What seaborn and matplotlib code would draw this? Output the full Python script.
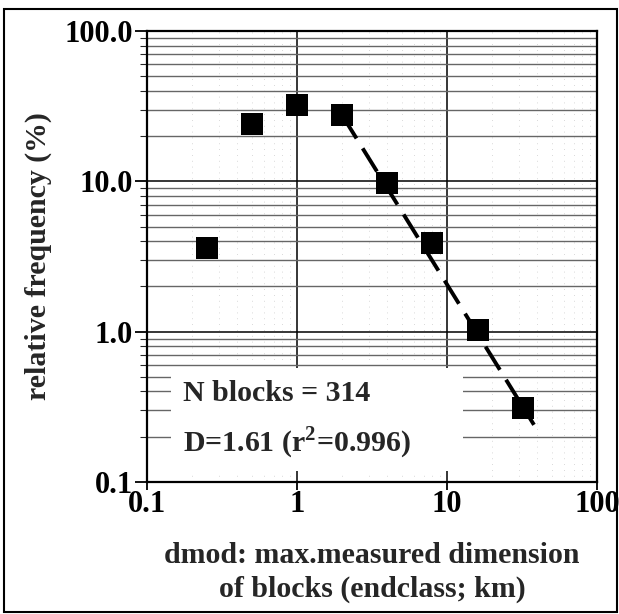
import numpy as np
import pandas as pd
import matplotlib
matplotlib.use("Agg")
import matplotlib.pyplot as plt
import seaborn as sns
from matplotlib.patches import Rectangle
from matplotlib.ticker import FixedLocator, FixedFormatter, LogLocator, NullFormatter

# data
dmod_km = [0.25, 0.5, 1, 2, 4, 8, 16, 32]
rel_freq_pct = [3.6, 24.0, 32.0, 27.5, 9.8, 3.9, 1.03, 0.31]
fit_x = [2.0, 38.0]
fit_y = [27.5, 0.24]
x_ticks = [0.1, 1, 10, 100]
x_labels = ["0.1", "1", "10", "100"]
y_ticks = [0.1, 1, 10, 100]
y_labels = ["0.1", "1.0", "10.0", "100.0"]
annot = ["N blocks = 314", r"D=1.61 (r$^{\mathbf{2}}$=0.996)"]

sns.set_style("white")
plt.rcParams["font.family"] = ["Liberation Serif", "DejaVu Serif"]
plt.rcParams["font.weight"] = "bold"
plt.rcParams["mathtext.fontset"] = "custom"
plt.rcParams["mathtext.rm"] = "Liberation Serif:bold"
plt.rcParams["mathtext.bf"] = "Liberation Serif:bold"

fig = plt.figure(figsize=(6.19, 6.14), dpi=100)
ax = fig.add_axes([0.2375, 0.215, 0.727, 0.7345])
ax.set_xscale("log")
ax.set_yscale("log")
ax.set_xlim(0.1, 100)
ax.set_ylim(0.1, 100)

# grid
ax.yaxis.set_minor_locator(LogLocator(base=10, subs=np.arange(2, 10)))
ax.xaxis.set_minor_locator(LogLocator(base=10, subs=np.arange(2, 10)))
ax.grid(True, which="major", axis="both", color="black", lw=1.1, zorder=1)
ax.grid(True, which="minor", axis="y", color="0.4", lw=1.0, zorder=1)
ax.grid(True, which="minor", axis="x", color="0.8", lw=0.6, ls=(0, (1, 6)), zorder=1)

# white area behind annotation
ax.add_patch(Rectangle((0.053, 0.025), 0.65, 0.228, transform=ax.transAxes,
                       facecolor="white", edgecolor="none", zorder=2))

df = pd.DataFrame({"x": dmod_km, "y": rel_freq_pct})
ax.plot(fit_x, fit_y, color="black", lw=2.8, ls=(0, (7, 3)), zorder=3)
sns.scatterplot(data=df, x="x", y="y", marker="s", color="black", s=260,
                edgecolor="black", linewidth=0, ax=ax, zorder=4)

ax.text(0.174, 0.39, annot[0], fontsize=21.5, fontweight="bold", va="center",
        ha="left", zorder=5)
ax.text(0.174, 0.182, annot[1], fontsize=21.5, fontweight="bold", va="center",
        ha="left", zorder=5)

ax.xaxis.set_major_locator(FixedLocator(x_ticks))
ax.xaxis.set_major_formatter(FixedFormatter(x_labels))
ax.xaxis.set_minor_formatter(NullFormatter())
ax.yaxis.set_major_locator(FixedLocator(y_ticks))
ax.yaxis.set_major_formatter(FixedFormatter(y_labels))
ax.yaxis.set_minor_formatter(NullFormatter())
ax.tick_params(axis="x", which="major", labelsize=22, length=6, width=1.3,
               direction="out", colors="black", bottom=True, pad=0)
ax.tick_params(axis="y", which="major", labelsize=22, length=9, width=1.3,
               direction="out", colors="black", left=True, pad=1)
ax.tick_params(axis="y", which="minor", length=5, width=0.8, direction="out", left=True)
ax.tick_params(axis="x", which="minor", length=0)
for lab in ax.get_xticklabels() + ax.get_yticklabels():
    lab.set_fontweight("bold")

for s in ax.spines.values():
    s.set_color("black")
    s.set_linewidth(1.6)

ax.set_xlabel("dmod: max.measured dimension\nof blocks (endclass; km)", fontsize=21.5,
              fontweight="bold", labelpad=16, linespacing=1.35)
ax.set_ylabel("relative frequency (%)", fontsize=21.5, fontweight="bold", labelpad=9)

fig.patches.append(Rectangle((0.006, 0.003), 0.99, 0.983, transform=fig.transFigure,
                             facecolor="none", edgecolor="black", lw=1.5))

fig.savefig("out.png", dpi=100)
